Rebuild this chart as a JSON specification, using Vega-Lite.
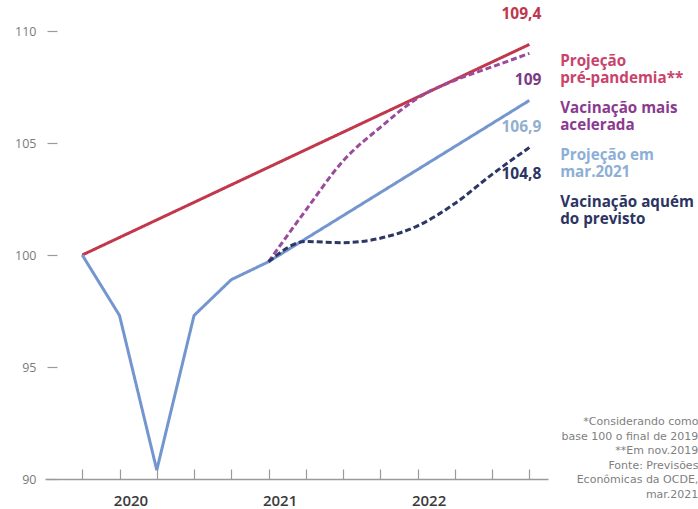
{
  "$schema": "https://vega.github.io/schema/vega-lite/v6.json",
  "width": 503,
  "height": 448,
  "autosize": {"type": "none"},
  "padding": {"left": 45, "top": 31, "right": 150, "bottom": 30},
  "background": "white",
  "config": {
    "view": {"stroke": null},
    "locale": {"number": {"decimal": ",", "thousands": ".", "grouping": [3], "currency": ["R$ ", ""]}}
  },
  "datasets": {
    "pib": [
      {"series": "Projeção pré-pandemia**", "t": 0, "v": 100},
      {"series": "Projeção pré-pandemia**", "t": 12, "v": 109.4},
      {"series": "Projeção em mar.2021", "t": 0, "v": 100},
      {"series": "Projeção em mar.2021", "t": 1, "v": 97.3},
      {"series": "Projeção em mar.2021", "t": 2, "v": 90.4},
      {"series": "Projeção em mar.2021", "t": 3, "v": 97.3},
      {"series": "Projeção em mar.2021", "t": 4, "v": 98.9},
      {"series": "Projeção em mar.2021", "t": 5, "v": 99.7},
      {"series": "Projeção em mar.2021", "t": 12, "v": 106.9},
      {"series": "Vacinação mais acelerada", "t": 5, "v": 99.7},
      {"series": "Vacinação mais acelerada", "t": 6, "v": 102.0},
      {"series": "Vacinação mais acelerada", "t": 7, "v": 104.2},
      {"series": "Vacinação mais acelerada", "t": 8, "v": 105.7},
      {"series": "Vacinação mais acelerada", "t": 9, "v": 107.0},
      {"series": "Vacinação mais acelerada", "t": 10, "v": 107.8},
      {"series": "Vacinação mais acelerada", "t": 11, "v": 108.4},
      {"series": "Vacinação mais acelerada", "t": 12, "v": 109},
      {"series": "Vacinação aquém do previsto", "t": 5, "v": 99.7},
      {"series": "Vacinação aquém do previsto", "t": 6, "v": 100.6},
      {"series": "Vacinação aquém do previsto", "t": 7, "v": 100.55},
      {"series": "Vacinação aquém do previsto", "t": 8, "v": 100.75},
      {"series": "Vacinação aquém do previsto", "t": 9, "v": 101.3},
      {"series": "Vacinação aquém do previsto", "t": 10, "v": 102.3},
      {"series": "Vacinação aquém do previsto", "t": 11, "v": 103.6},
      {"series": "Vacinação aquém do previsto", "t": 12, "v": 104.8}
    ]
  },
  "layer": [
    {
      "data": {"name": "pib"},
      "transform": [{"filter": "datum.series == 'Projeção pré-pandemia**' || datum.series == 'Projeção em mar.2021'"}],
      "mark": {"type": "line", "strokeWidth": 3, "interpolate": "linear"},
      "encoding": {
        "x": {
          "field": "t", "type": "quantitative",
          "scale": {"domain": [-1, 12.5], "nice": false, "zero": false},
          "axis": {
            "values": [0, 1, 2, 3, 4, 5, 6, 7, 8, 9, 10, 11, 12],
            "title": null, "grid": false,
            "domainColor": "#9a9a9a", "domainWidth": 1.5,
            "tickColor": "#9a9a9a", "tickWidth": 1.2, "tickSize": -10,
            "labelExpr": "datum.value == 1 ? '2020' : datum.value == 5 ? '2021' : datum.value == 9 ? '2022' : ''",
            "labelOffset": 11, "labelPadding": 24, "labelOverlap": false, "labelFlush": false,
            "labelFont": "Open Sans", "labelFontSize": 15, "labelFontWeight": 600, "labelColor": "#3a3a3a"
          }
        },
        "y": {
          "field": "v", "type": "quantitative",
          "scale": {"domain": [90, 110], "nice": false, "zero": false},
          "axis": {
            "values": [90, 95, 100, 105, 110],
            "title": null, "grid": false, "domain": false,
            "offset": -12, "tickSize": 10, "tickColor": "#9a9a9a", "tickWidth": 1.2,
            "labelPadding": 11, "labelFont": "Open Sans", "labelFontSize": 12.5, "labelColor": "#7a7a7a"
          }
        },
        "color": {
          "field": "series", "type": "nominal",
          "scale": {
            "domain": ["Projeção pré-pandemia**", "Vacinação mais acelerada", "Projeção em mar.2021", "Vacinação aquém do previsto"],
            "range": ["#c1374c", "#9a4c9c", "#7396cf", "#2c3766"]
          },
          "legend": {
            "orient": "none", "legendX": 500, "legendY": 22,
            "title": null, "padding": 0, "rowPadding": 14,
            "symbolOpacity": 0, "symbolSize": 0, "symbolStrokeWidth": 0, "labelOffset": 0,
            "labelFont": "Open Sans", "labelFontWeight": "bold", "labelFontSize": 15.2, "labelLineHeight": 16.5, "labelLimit": 300,
            "labelExpr": "datum.label == 'Projeção pré-pandemia**' ? ['Projeção', 'pré-pandemia**'] : datum.label == 'Vacinação mais acelerada' ? ['Vacinação mais', 'acelerada'] : datum.label == 'Projeção em mar.2021' ? ['Projeção em', 'mar.2021'] : ['Vacinação aquém', 'do previsto']",
            "encode": {
              "labels": {
                "update": {
                  "fill": {"signal": "datum.value == 'Projeção pré-pandemia**' ? '#c9436b' : datum.value == 'Vacinação mais acelerada' ? '#8a3b90' : datum.value == 'Projeção em mar.2021' ? '#8cafd6' : '#2c3463'"}
                }
              }
            }
          }
        },
        "strokeDash": {
          "field": "series", "type": "nominal",
          "scale": {
            "domain": ["Projeção pré-pandemia**", "Vacinação mais acelerada", "Projeção em mar.2021", "Vacinação aquém do previsto"],
            "range": [[1, 0], [6, 3], [1, 0], [6, 3]]
          },
          "legend": null
        },
        "order": {"field": "t"}
      }
    },
    {
      "data": {"name": "pib"},
      "transform": [{"filter": "datum.series == 'Vacinação mais acelerada' || datum.series == 'Vacinação aquém do previsto'"}],
      "mark": {"type": "line", "strokeWidth": 3, "interpolate": "monotone"},
      "encoding": {
        "x": {"field": "t", "type": "quantitative"},
        "y": {"field": "v", "type": "quantitative"},
        "color": {"field": "series", "type": "nominal"},
        "strokeDash": {"field": "series", "type": "nominal", "legend": null},
        "order": {"field": "t"}
      }
    },
    {
      "data": {"name": "pib"},
      "transform": [{"filter": "datum.t == 12 && datum.series == 'Projeção pré-pandemia**'"}],
      "mark": {"type": "text", "align": "right", "baseline": "middle", "dx": 12, "dy": -30, "font": "Open Sans", "fontWeight": "bold", "fontSize": 15.5},
      "encoding": {
        "x": {"field": "t", "type": "quantitative"},
        "y": {"field": "v", "type": "quantitative"},
        "text": {"field": "v", "type": "quantitative", "format": ".1~f"},
        "fill": {
          "field": "series", "type": "nominal",
          "scale": {
            "domain": ["Projeção pré-pandemia**", "Vacinação mais acelerada", "Projeção em mar.2021", "Vacinação aquém do previsto"],
            "range": ["#c0364d", "#7b3b84", "#8fb0cf", "#2b3561"]
          },
          "legend": null
        }
      }
    },
    {
      "data": {"name": "pib"},
      "transform": [{"filter": "datum.t == 12 && datum.series != 'Projeção pré-pandemia**'"}],
      "mark": {"type": "text", "align": "right", "baseline": "middle", "dx": 12, "dy": 27, "font": "Open Sans", "fontWeight": "bold", "fontSize": 15.5},
      "encoding": {
        "x": {"field": "t", "type": "quantitative"},
        "y": {"field": "v", "type": "quantitative"},
        "text": {"field": "v", "type": "quantitative", "format": ".1~f"},
        "fill": {"field": "series", "type": "nominal", "legend": null}
      }
    },
    {
      "data": {"values": [{"lines": ["*Considerando como", "base 100 o final de 2019", "**Em nov.2019", "Fonte: Previsões", "Econômicas da OCDE,", "mar.2021"]}]},
      "mark": {"type": "text", "align": "right", "baseline": "top", "dx": 169, "dy": -63, "font": "DejaVu Sans", "fontSize": 11, "lineHeight": 14.6, "color": "#808080"},
      "encoding": {
        "x": {"datum": 12},
        "y": {"datum": 90},
        "text": {"field": "lines"}
      }
    }
  ]
}
